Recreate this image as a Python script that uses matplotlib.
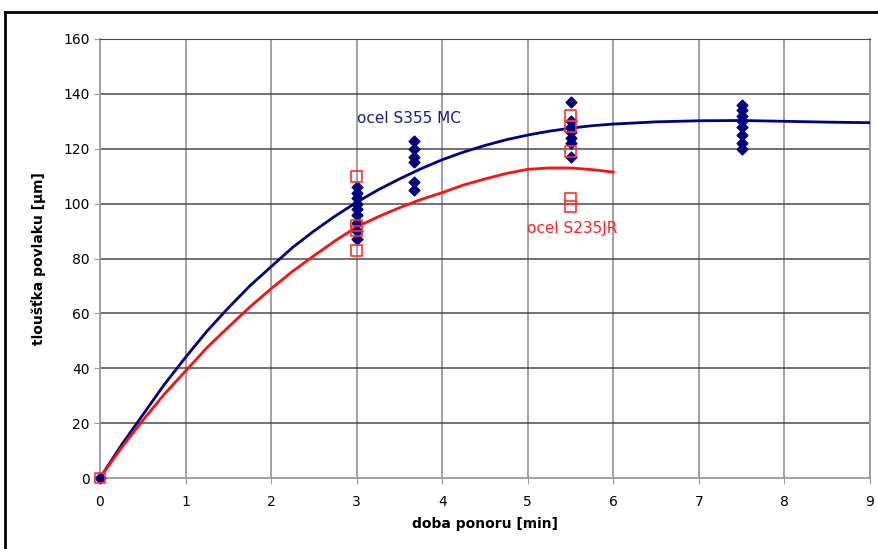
import numpy as np
import matplotlib.pyplot as plt
from matplotlib.lines import Line2D

# fitted curves
blue_x = [0, 0.25, 0.5, 0.75, 1, 1.25, 1.5, 1.75, 2, 2.25, 2.5, 2.75, 3, 3.25, 3.5, 3.75,
          4, 4.25, 4.5, 4.75, 5, 5.25, 5.5, 5.75, 6, 6.5, 7, 7.5, 8, 8.5, 9]
blue_y = [0, 12, 23, 34, 44, 53.5, 62, 70, 77, 84, 90, 95.5, 100.5, 105, 109, 112.7,
          116, 118.8, 121.2, 123.3, 125, 126.4, 127.5, 128.4, 129, 129.8, 130.2, 130.3, 130, 129.7, 129.5]
red_x = [0, 0.25, 0.5, 0.75, 1, 1.25, 1.5, 1.75, 2, 2.25, 2.5, 2.75, 3, 3.25, 3.5, 3.75,
         4, 4.25, 4.5, 4.75, 5, 5.25, 5.5, 5.75, 6]
red_y = [0, 11, 21, 30.5, 39, 47.5, 55, 62.3, 69, 75.3, 81, 86.5, 91.5, 95.2, 98.5, 101.5,
         104, 106.8, 109, 111, 112.5, 113, 113, 112.4, 111.5]

# measured points
s355_x = [0] + [3] * 9 + [3.67] * 6 + [5.5] * 7 + [7.5] * 8
s355_y = [0,
          106, 104, 102, 100, 98, 96, 93, 90, 87,
          123, 120, 117, 115, 108, 105,
          137, 130, 128, 126, 124, 122, 117,
          136, 134, 132, 130, 128, 125, 122, 120]
s235_x = [0] + [3] * 4 + [5.5] * 5
s235_y = [0, 110, 92, 90, 83, 132, 128, 119, 102, 99]

fig = plt.figure(figsize=(8.79, 5.49), dpi=100)
ax = fig.add_axes([100 / 879, 1 - 478 / 549, 770 / 879, 439 / 549])

ax.set_xlim(0, 9)
ax.set_ylim(0, 160)
ax.set_xticks(range(0, 10))
ax.set_yticks(range(0, 161, 20))

for v in range(1, 10):
    ax.axvline(v, color='#9a9a9a', lw=1.3, zorder=0)
for v in range(20, 161, 20):
    ax.axhline(v, color='#4a4a4a', lw=1.1, zorder=0)

for s in ['left', 'bottom', 'right']:
    ax.spines[s].set_color('#9a9a9a')
    ax.spines[s].set_linewidth(1.3)
ax.spines['top'].set_color('#4a4a4a')
ax.tick_params(axis='both', colors='#9a9a9a', length=4, labelcolor='black', labelsize=10)
ax.tick_params(axis='x', pad=8)

ax.plot(blue_x, blue_y, color='#000080', lw=2, zorder=3)
ax.plot(red_x, red_y, color='#ff1010', lw=2, zorder=3)
ax.scatter(s355_x, s355_y, marker='D', s=30, color='#000080', zorder=4, clip_on=False)
ax.scatter(s235_x, s235_y, marker='s', s=60, facecolors='none', edgecolors='#ff3030', lw=1.2,
           zorder=5, clip_on=False)

ax.text(3.0, 131, 'ocel S355 MC', color='#1a1a90', fontsize=11, ha='left', va='center')
ax.text(4.99, 91, 'ocel S235JR', color='#ff2020', fontsize=11, ha='left', va='center')

ax.set_xlabel('doba ponoru [min]', fontsize=10, fontweight='bold', labelpad=6)
ax.set_ylabel('tloušťka povlaku [µm]', fontsize=10, fontweight='bold', labelpad=12)

# frame around the whole picture (only left and top edges visible)
fig.lines.append(Line2D([5 / 879, 5 / 879], [0, 1 - 12 / 549], transform=fig.transFigure,
                        color='black', lw=2))
fig.lines.append(Line2D([5 / 879, 1], [1 - 12 / 549, 1 - 12 / 549], transform=fig.transFigure,
                        color='black', lw=2))

fig.savefig('out.png', dpi=100)
